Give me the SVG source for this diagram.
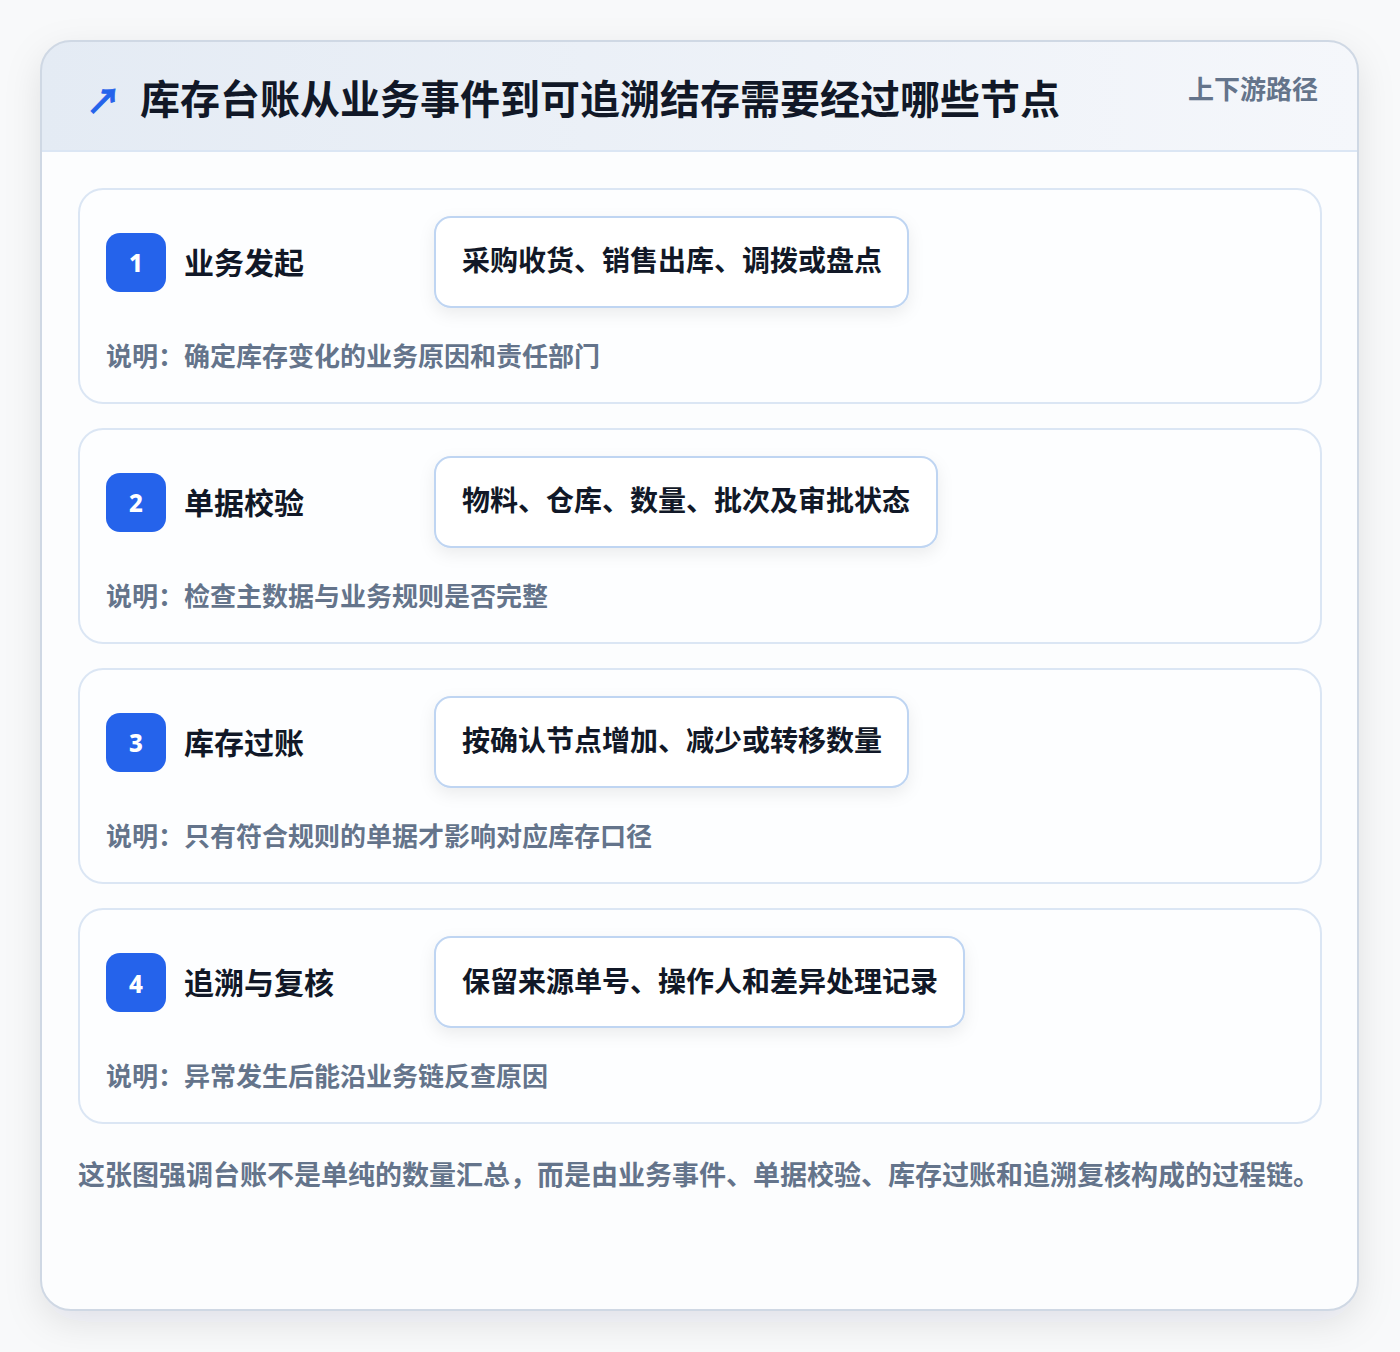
<svg xmlns="http://www.w3.org/2000/svg" width="1400" height="1352" viewBox="0 0 1400 1352">
<defs>
<linearGradient id="hdr" x1="0" y1="0" x2="1" y2="0">
<stop offset="0" stop-color="#e4ebf4"/>
<stop offset="1" stop-color="#f5f7fb"/>
</linearGradient>
<filter id="outerShadow" x="-10%" y="-10%" width="120%" height="120%">
<feDropShadow dx="0" dy="12" stdDeviation="18" flood-color="#0f172a" flood-opacity="0.10"/>
</filter>
<filter id="pillShadow" x="-10%" y="-30%" width="120%" height="160%">
<feDropShadow dx="0" dy="6" stdDeviation="8" flood-color="#0f172a" flood-opacity="0.07"/>
</filter>
<clipPath id="cardClip"><rect x="41" y="41" width="1317" height="1269" rx="30"/></clipPath>
<style>
text{font-family:"Noto Sans CJK SC","Noto Sans",sans-serif;font-weight:700}
.card{fill:#fdfeff;stroke:#dbe6f4;stroke-width:2}
.badge{fill:#2563eb}
.num{fill:#ffffff;font-size:24px;text-anchor:middle;font-weight:800;font-family:"Noto Sans","Noto Sans CJK SC",sans-serif}
.step{fill:#111827;font-size:30px}
.pill{fill:#ffffff;stroke:#bfd5f2;stroke-width:2}
.pilltxt{fill:#111827;font-size:28px}
.desc{fill:#64748b;font-size:26px}
</style>
</defs>
<rect x="0" y="0" width="1400" height="1352" fill="#f8f9fa"/>
<g id="frame">
<rect x="41" y="41" width="1317" height="1269" rx="30" fill="#ffffff" filter="url(#outerShadow)"/>
<g clip-path="url(#cardClip)">
<rect x="41" y="41" width="1317" height="110" fill="url(#hdr)"/>
<rect x="41" y="151" width="1317" height="1159" fill="#fcfdfe"/>
<line x1="41" y1="151" x2="1358" y2="151" stroke="#dbe6f4" stroke-width="2"/>
</g>
<rect x="41" y="41" width="1317" height="1269" rx="30" fill="none" stroke="#cfd8e4" stroke-width="2"/>
</g>
<g id="header">
<text x="86" y="114" font-size="35" fill="#2563eb" stroke="#2563eb" stroke-width="0.8">↗</text>
<text x="140" y="114" font-size="40" fill="#111827">库存台账从业务事件到可追溯结存需要经过哪些节点</text>
<text x="1318" y="99" font-size="26" fill="#64748b" text-anchor="end">上下游路径</text>
</g>
<g id="step1">
<rect class="card" x="79" y="189" width="1242" height="214" rx="24"/>
<rect class="badge" x="106" y="233" width="60" height="59" rx="14"/>
<text class="num" x="136" y="272">1</text>
<text class="step" x="184" y="274">业务发起</text>
<rect class="pill" x="435" y="217" width="473" height="90" rx="16" filter="url(#pillShadow)"/>
<text class="pilltxt" x="462" y="271">采购收货、销售出库、调拨或盘点</text>
<text class="desc" x="106" y="366">说明：确定库存变化的业务原因和责任部门</text>
</g>
<g id="step2">
<rect class="card" x="79" y="429" width="1242" height="214" rx="24"/>
<rect class="badge" x="106" y="473" width="60" height="59" rx="14"/>
<text class="num" x="136" y="512">2</text>
<text class="step" x="184" y="514">单据校验</text>
<rect class="pill" x="435" y="457" width="502" height="90" rx="16" filter="url(#pillShadow)"/>
<text class="pilltxt" x="462" y="511">物料、仓库、数量、批次及审批状态</text>
<text class="desc" x="106" y="606">说明：检查主数据与业务规则是否完整</text>
</g>
<g id="step3">
<rect class="card" x="79" y="669" width="1242" height="214" rx="24"/>
<rect class="badge" x="106" y="713" width="60" height="59" rx="14"/>
<text class="num" x="136" y="752">3</text>
<text class="step" x="184" y="754">库存过账</text>
<rect class="pill" x="435" y="697" width="473" height="90" rx="16" filter="url(#pillShadow)"/>
<text class="pilltxt" x="462" y="751">按确认节点增加、减少或转移数量</text>
<text class="desc" x="106" y="846">说明：只有符合规则的单据才影响对应库存口径</text>
</g>
<g id="step4">
<rect class="card" x="79" y="909" width="1242" height="214" rx="24"/>
<rect class="badge" x="106" y="953" width="60" height="59" rx="14"/>
<text class="num" x="136" y="993">4</text>
<text class="step" x="184" y="994">追溯与复核</text>
<rect class="pill" x="435" y="937" width="529" height="90" rx="16" filter="url(#pillShadow)"/>
<text class="pilltxt" x="462" y="992">保留来源单号、操作人和差异处理记录</text>
<text class="desc" x="106" y="1086">说明：异常发生后能沿业务链反查原因</text>
</g>
<g id="footer">
<text x="78" y="1185" font-size="27" fill="#64748b">这张图强调台账不是单纯的数量汇总，而是由业务事件、单据校验、库存过账和追溯复核构成的过程链。</text>
</g>
<g id="connectors"></g>
</svg>
